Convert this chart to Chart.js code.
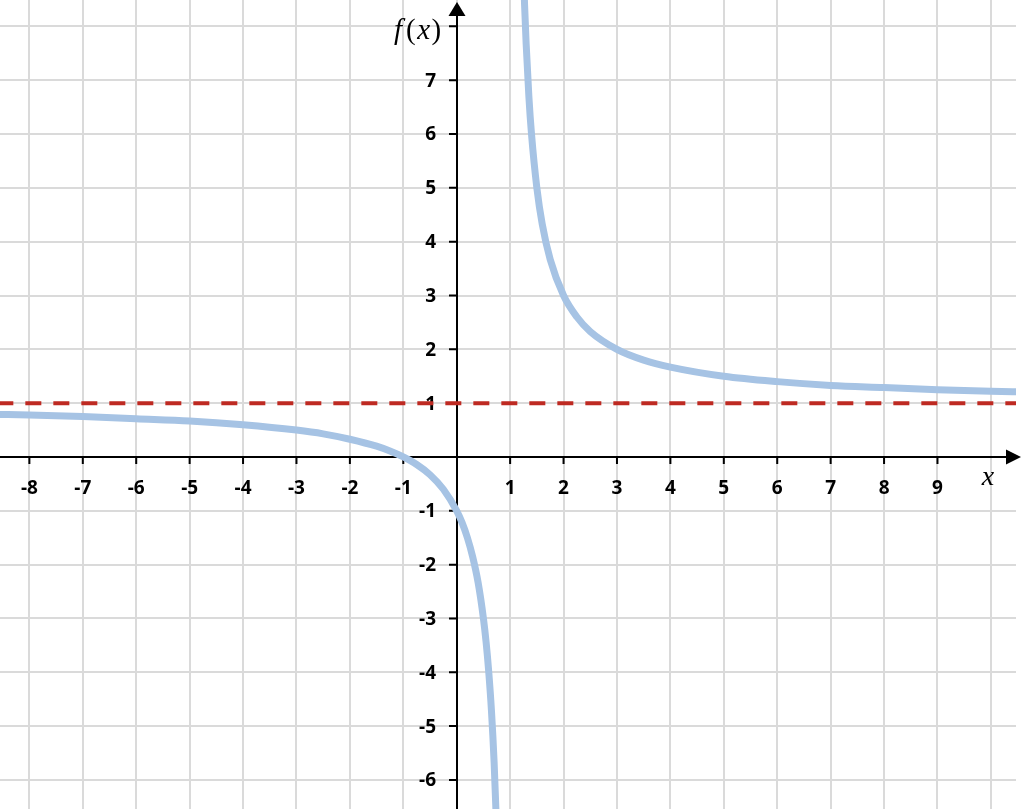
<!DOCTYPE html>
<html><head><meta charset="utf-8">
<script src="https://cdn.jsdelivr.net/npm/chart.js@4/dist/chart.umd.min.js"></script>
<style>html,body{margin:0;padding:0;background:#fff;} canvas{display:block}</style>
</head><body>
<canvas id="c" width="1024" height="809"></canvas>
<script>
// Values
const leftBranchX = [-8.6, -8, -7, -6, -5, -4, -3, -2.5, -2, -1.5, -1.25, -1, -0.75, -0.5, -0.25, 0, 0.1, 0.2, 0.3, 0.4, 0.5, 0.55, 0.6, 0.65, 0.7, 0.75];
const leftBranchY = [0.79, 0.78, 0.75, 0.71, 0.67, 0.6, 0.5, 0.43, 0.33, 0.2, 0.11, 0, -0.14, -0.33, -0.6, -1, -1.22, -1.5, -1.86, -2.33, -3, -3.44, -4, -4.71, -5.67, -7];
const rightBranchX = [1.25, 1.27, 1.3, 1.35, 1.4, 1.5, 1.6, 1.75, 2, 2.25, 2.5, 3, 3.5, 4, 5, 6, 7, 8, 9, 10, 10.6];
const rightBranchY = [9, 8.41, 7.67, 6.71, 6, 5, 4.33, 3.67, 3, 2.6, 2.33, 2, 1.8, 1.67, 1.5, 1.4, 1.33, 1.29, 1.25, 1.22, 1.21];
const asymptoteX = [-8.6, 10.6];
const asymptoteY = [1, 1];
const xTickValues = [-8, -7, -6, -5, -4, -3, -2, -1, 1, 2, 3, 4, 5, 6, 7, 8, 9];
const xTickLabels = ['-8', '-7', '-6', '-5', '-4', '-3', '-2', '-1', '1', '2', '3', '4', '5', '6', '7', '8', '9'];
const yTickValues = [-6, -5, -4, -3, -2, -1, 1, 2, 3, 4, 5, 6, 7];
const yTickLabels = ['-6', '-5', '-4', '-3', '-2', '-1', '1', '2', '3', '4', '5', '6', '7'];
const yTickMarkValues = [-6, -5, -4, -3, -2, -1, 1, 2, 3, 4, 5, 6, 7, 8];
const xAxisTitle = 'x';

function pts(xs, ys) { return xs.map((x, i) => ({ x: x, y: ys[i] })); }

const axesPlugin = {
  id: 'axesPlugin',
  beforeDatasetsDraw(chart) {
    const ctx = chart.ctx;
    const sx = chart.scales.x, sy = chart.scales.y;
    const x0 = Math.round(sx.getPixelForValue(0));
    const y0 = Math.round(sy.getPixelForValue(0));
    ctx.save();
    ctx.strokeStyle = '#000';
    ctx.fillStyle = '#000';
    ctx.lineWidth = 2;
    // axis lines
    ctx.beginPath();
    ctx.moveTo(0, y0); ctx.lineTo(1008, y0);
    ctx.moveTo(x0, 809); ctx.lineTo(x0, 14);
    ctx.stroke();
    // arrows
    ctx.beginPath();
    ctx.moveTo(1021, y0); ctx.lineTo(1006, y0 - 7.5); ctx.lineTo(1006, y0 + 7.5); ctx.closePath(); ctx.fill();
    ctx.beginPath();
    ctx.moveTo(x0, 2); ctx.lineTo(x0 - 8.5, 16); ctx.lineTo(x0 + 8.5, 16); ctx.closePath(); ctx.fill();
    // tick marks
    ctx.beginPath();
    xTickValues.forEach(v => { const p = sx.getPixelForValue(v); ctx.moveTo(p, y0); ctx.lineTo(p, y0 + 7); });
    yTickMarkValues.forEach(v => { const p = sy.getPixelForValue(v); ctx.moveTo(x0, p); ctx.lineTo(x0 - 8, p); });
    ctx.stroke();
    // tick labels
    ctx.font = 'bold 19px "Open Sans", "Liberation Sans", sans-serif';
    ctx.textAlign = 'center'; ctx.textBaseline = 'middle';
    xTickValues.forEach((v, i) => { ctx.fillText(xTickLabels[i], sx.getPixelForValue(v), y0 + 32); });
    ctx.textAlign = 'right';
    yTickValues.forEach((v, i) => { ctx.fillText(yTickLabels[i], x0 - 21, sy.getPixelForValue(v) + 1); });
    // axis titles
    ctx.textBaseline = 'alphabetic';
    ctx.textAlign = 'center';
    ctx.font = 'italic 28px "Liberation Serif", "DejaVu Serif", serif';
    ctx.fillText(xAxisTitle, 988, y0 + 28);
    // f(x) built from pieces: italic f, upright (, italic x, upright )
    const pieces = [['f', 'italic'], ['(', 'normal'], ['x', 'italic'], [')', 'normal']];
    let cx = 394; const base = 39;
    ctx.textAlign = 'left';
    pieces.forEach(([t, st]) => {
      ctx.font = st + ' 29px "Liberation Serif", "DejaVu Serif", serif';
      ctx.fillText(t, cx, base);
      cx += ctx.measureText(t).width + (t === 'f' ? 4 : 1.5);
    });
    ctx.restore();
  }
};

new Chart(document.getElementById('c'), {
  type: 'scatter',
  data: {
    datasets: [
      { data: pts(asymptoteX, asymptoteY), showLine: true, borderColor: '#be2a22', borderWidth: 4, borderDash: [16, 12], pointRadius: 0 },
      { data: pts(leftBranchX, leftBranchY), showLine: true, borderColor: '#a6c3e4', borderWidth: 7, pointRadius: 0, cubicInterpolationMode: 'monotone' },
      { data: pts(rightBranchX, rightBranchY), showLine: true, borderColor: '#a6c3e4', borderWidth: 7, pointRadius: 0, cubicInterpolationMode: 'monotone' }
    ]
  },
  options: {
    responsive: false,
    devicePixelRatio: 1,
    animation: false,
    events: [],
    layout: { padding: { left: 0, right: 8, top: 0, bottom: 0 } },
    plugins: { legend: { display: false }, tooltip: { enabled: false } },
    scales: {
      x: { type: 'linear', min: -8.55, max: 10.47,
        ticks: { display: false, stepSize: 1, includeBounds: false },
        grid: { color: '#dadada', lineWidth: 2, drawTicks: false },
        border: { display: false } },
      y: { type: 'linear', min: -6.54, max: 8.49,
        ticks: { display: false, stepSize: 1, includeBounds: false },
        grid: { color: '#dadada', lineWidth: 2, drawTicks: false },
        border: { display: false } }
    }
  },
  plugins: [axesPlugin]
});
</script>
</body></html>
